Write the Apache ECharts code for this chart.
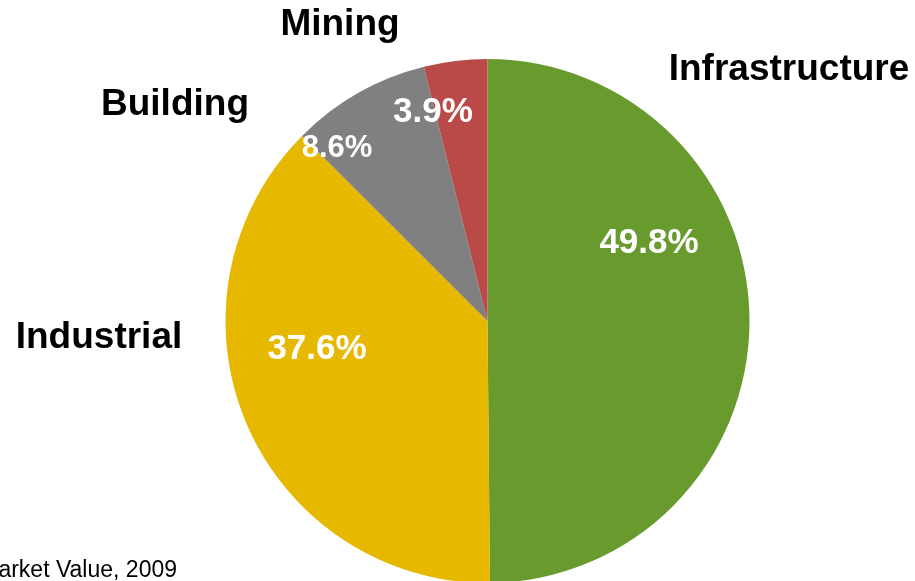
<!DOCTYPE html>
<html>
<head>
<meta charset="utf-8">
<title>Market Value, 2009</title>
<script src="https://cdn.jsdelivr.net/npm/echarts@6/dist/echarts.min.js"></script>
<style>
  html, body { margin: 0; padding: 0; background: #ffffff; }
  #chart { width: 915px; height: 581px; }
</style>
</head>
<body>
<div id="chart"></div>
<script>
// Segments, clockwise from 12 o'clock
const categories = ['Infrastructure', 'Industrial', 'Building', 'Mining'];
// Share of market value, percent
const shares = [49.8, 37.6, 8.6, 3.9];
const sliceColors = ['#689a2e', '#e6b800', '#808080', '#b94a48'];
const footnote = 'Market Value, 2009';

// Hand-placed label anchors (text centres) and sizes, per segment
const valueLabelAnchors = [[649, 243], [317, 349], [337, 148], [433, 112]];
const valueLabelSizes = [35, 35, 31, 35];
const nameLabelAnchors = [[789, 70], [99, 338], [175, 105], [340, 25]];

const FONT = '"Liberation Sans", Arial, Helvetica, sans-serif';
const pieCenter = [487.5, 321];
const pieRadius = 262;

const seriesData = categories.map((name, i) => ({
  name: name,
  value: shares[i],
  itemStyle: { color: sliceColors[i] },
  label: { fontSize: valueLabelSizes[i] }
}));

const chart = echarts.init(document.getElementById('chart'), null, { renderer: 'canvas' });

chart.setOption({
  animation: false,
  backgroundColor: '#ffffff',
  series: [
    {
      // coloured wedges with their percentage
      type: 'pie',
      center: pieCenter,
      radius: pieRadius,
      startAngle: 90,
      clockwise: true,
      silent: true,
      itemStyle: { borderWidth: 0 },
      emphasis: { disabled: true },
      label: {
        show: true,
        position: 'inside',
        formatter: p => p.value.toFixed(1) + '%',
        color: '#ffffff',
        fontFamily: FONT,
        fontWeight: 'bold',
        fontSize: 35
      },
      labelLine: { show: false },
      labelLayout: p => ({
        x: valueLabelAnchors[p.dataIndex][0],
        y: valueLabelAnchors[p.dataIndex][1],
        align: 'center',
        verticalAlign: 'middle'
      }),
      data: seriesData
    },
    {
      // invisible copy carrying the category names
      type: 'pie',
      center: pieCenter,
      radius: pieRadius,
      startAngle: 90,
      clockwise: true,
      silent: true,
      z: 3,
      itemStyle: { color: 'rgba(0,0,0,0)', borderWidth: 0 },
      emphasis: { disabled: true },
      label: {
        show: true,
        position: 'outside',
        alignTo: 'none',
        overflow: 'none',
        width: 400,
        formatter: '{b}',
        color: '#000000',
        fontFamily: FONT,
        fontWeight: 'bold',
        fontSize: 37
      },
      labelLine: { show: false },
      labelLayout: p => ({
        x: nameLabelAnchors[p.dataIndex][0],
        y: nameLabelAnchors[p.dataIndex][1],
        width: 400,
        align: 'center',
        verticalAlign: 'middle'
      }),
      data: categories.map((name, i) => ({ name: name, value: shares[i] }))
    }
  ],
  graphic: [
    {
      type: 'text',
      x: 177,
      y: 571,
      silent: true,
      style: {
        text: footnote,
        font: '23px ' + FONT,
        fill: '#000000',
        textAlign: 'right',
        textVerticalAlign: 'middle'
      }
    }
  ]
});
</script>
</body>
</html>
